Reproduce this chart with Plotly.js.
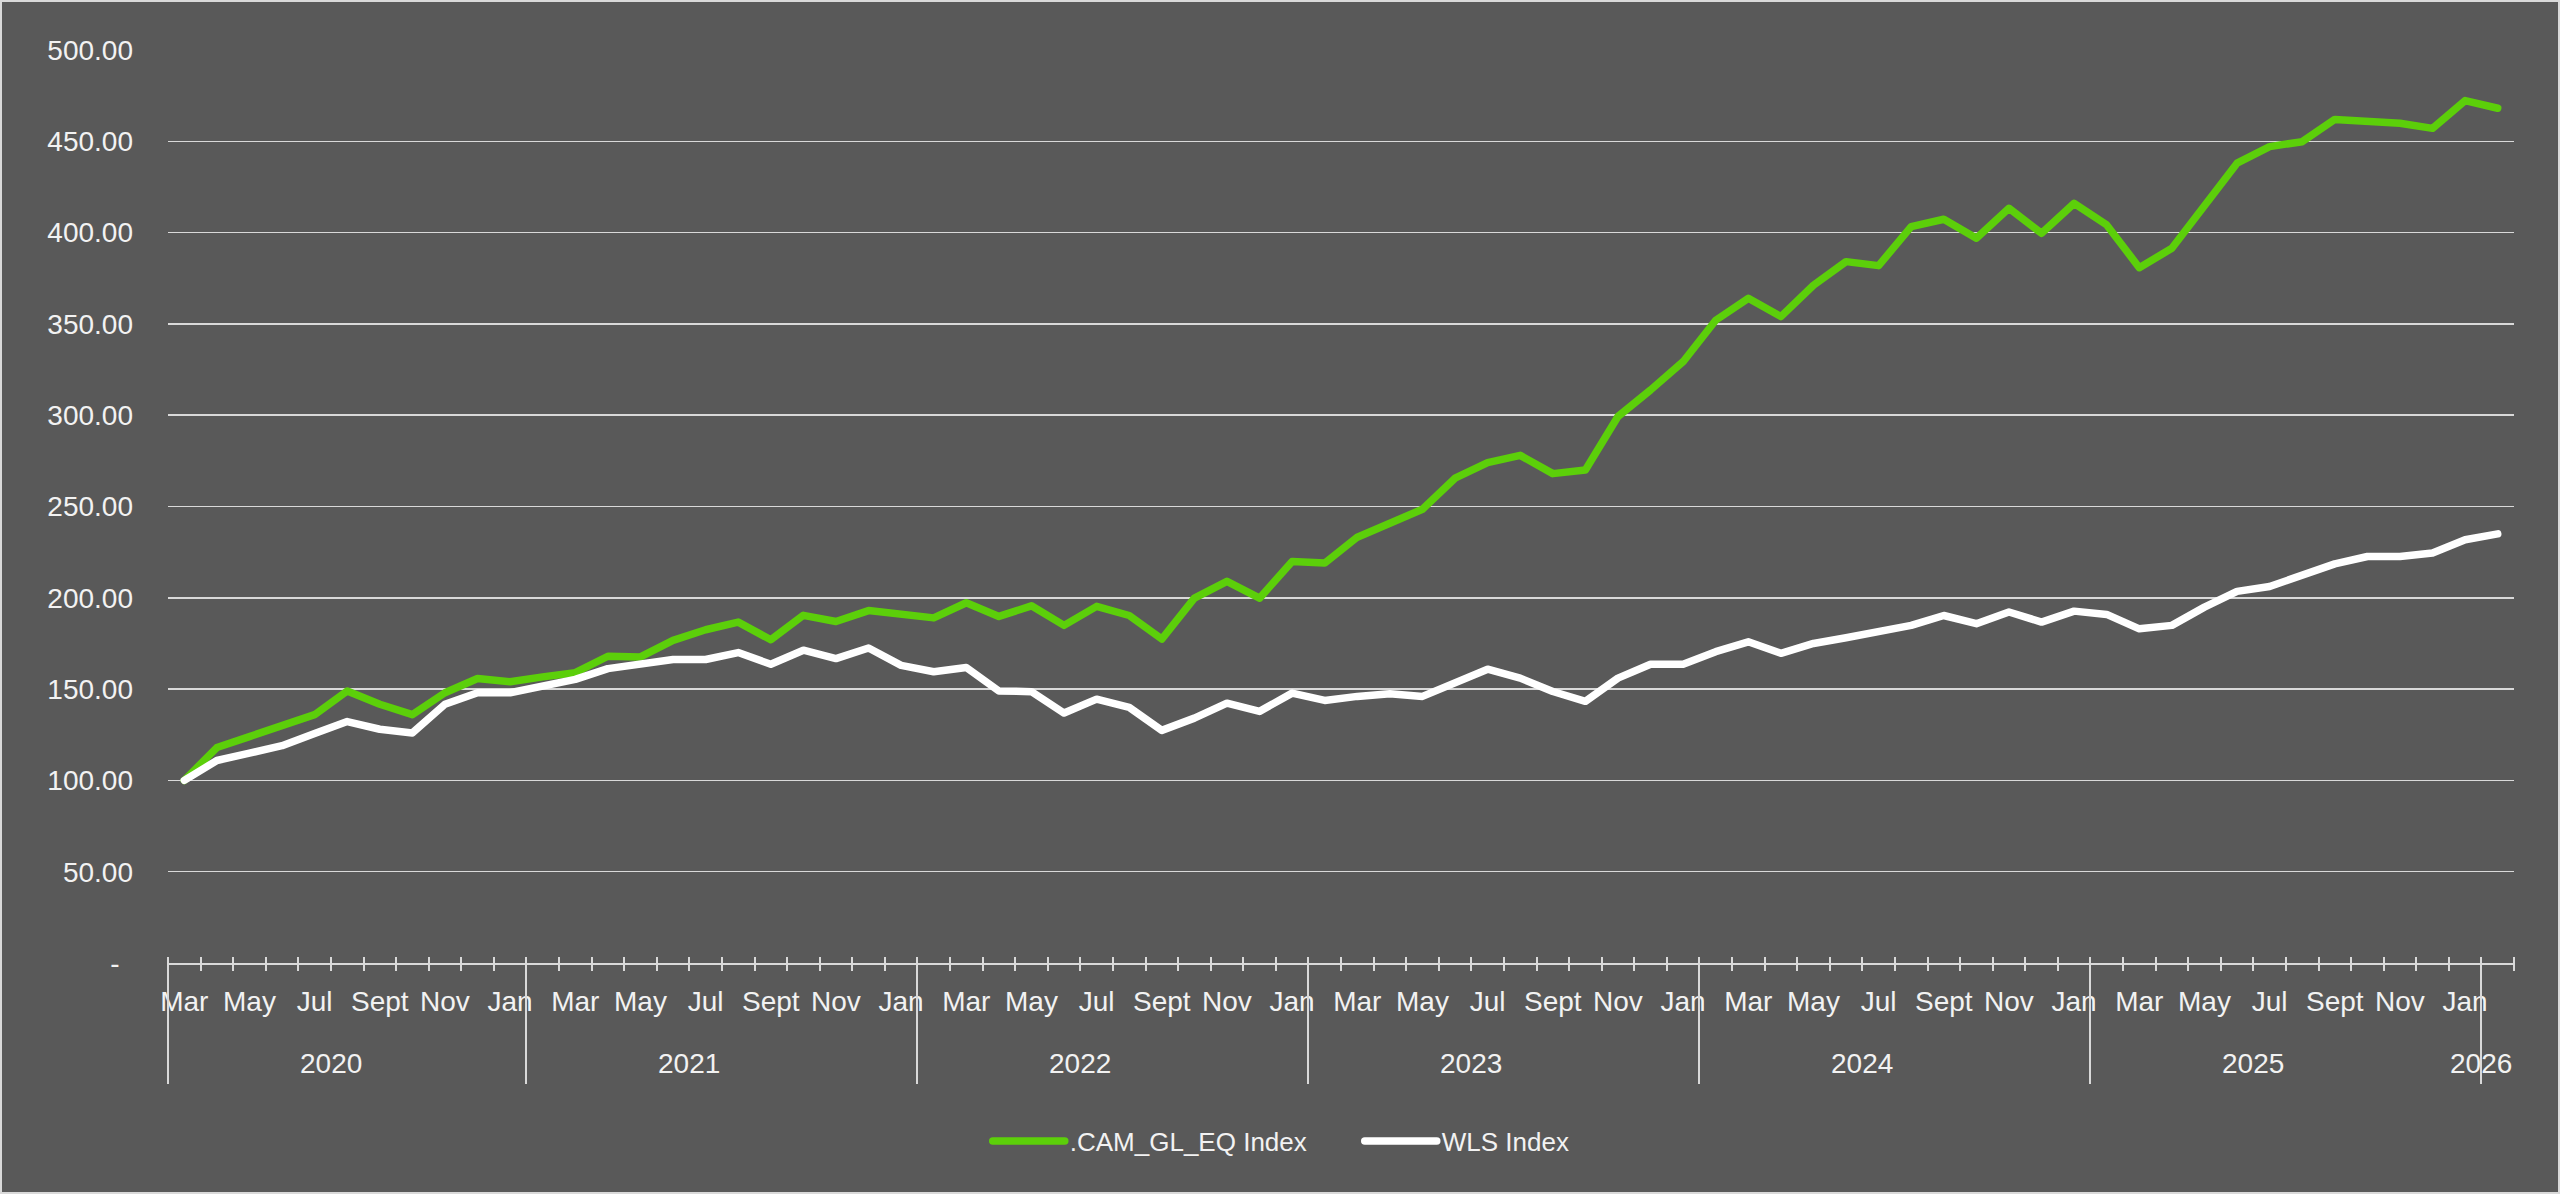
<!DOCTYPE html>
<html><head><meta charset="utf-8">
<script src="https://cdn.plot.ly/plotly-3.0.1.min.js"></script>
<style>
html,body{margin:0;padding:0;background:#595959;}
#wrap{width:2560px;height:1194px;box-sizing:border-box;border:2px solid #d9d9d9;background:#595959;}
#chart{width:2556px;height:1190px;}
.js-line{stroke-linejoin:round;stroke-linecap:round;}
</style></head><body>
<div id="wrap"><div id="chart"></div></div>
<script>
// Year group of each monthly point (as grouped on the reference axis)
const years = [
 2020,2020,2020,2020,2020,2020,2020,2020,2020,2020,2020,
 2021,2021,2021,2021,2021,2021,2021,2021,2021,2021,2021,2021,
 2022,2022,2022,2022,2022,2022,2022,2022,2022,2022,2022,2022,
 2023,2023,2023,2023,2023,2023,2023,2023,2023,2023,2023,2023,
 2024,2024,2024,2024,2024,2024,2024,2024,2024,2024,2024,2024,
 2025,2025,2025,2025,2025,2025,2025,2025,2025,2025,2025,2025,
 2026
];
// Month label of each point
const months = [
 "Mar","Apr","May","Jun","Jul","Aug","Sept","Oct","Nov","Dec","Jan",
 "Feb","Mar","Apr","May","Jun","Jul","Aug","Sept","Oct","Nov","Dec","Jan",
 "Feb","Mar","Apr","May","Jun","Jul","Aug","Sept","Oct","Nov","Dec","Jan",
 "Feb","Mar","Apr","May","Jun","Jul","Aug","Sept","Oct","Nov","Dec","Jan",
 "Feb","Mar","Apr","May","Jun","Jul","Aug","Sept","Oct","Nov","Dec","Jan",
 "Feb","Mar","Apr","May","Jun","Jul","Aug","Sept","Oct","Nov","Dec","Jan",
 "Feb"
];
const camGlEq = [
 100,118,124,129.5,136,149,141.7,136,148,155.8,154,
 156.7,159,168,167.6,176.7,182.5,186.7,177,190.4,187,193,191.3,
 189,197.3,189.8,195.6,184.9,195.3,190.3,177.4,199.8,209,199.8,219.9,
 219,233.2,240.9,248.5,265.5,274,278,268,270,299.3,313.8,329.3,
 352,364,354,371.2,384.1,381.9,403.3,407.3,396.9,413.3,399.6,416,
 404.2,380.8,391.4,415.1,438,447.1,449.8,462,461.1,459.9,457.1,472.3,
 468.1
];
const wls = [
 100,110.9,114.9,119,125.7,132.2,128,126,141.7,148,148,
 151.6,155.3,161.2,163.5,166.2,166.2,170,163.6,171.3,166.7,172.5,163,
 159.5,161.8,149,148.6,136.9,144.5,140,127.4,134.1,142.3,137.8,147.8,
 143.8,146,147.4,146,153.3,160.9,156,148.7,143.3,156,163.6,163.6,
 170.5,175.9,169.6,175,178.1,181.2,184.9,190.3,185.8,192.2,186.7,192.7,
 190.9,183,184.9,194.9,203.5,206.2,212.2,218.6,222.6,222.6,224.5,231.8,
 235
];
const seriesNames = [".CAM_GL_EQ Index", "WLS Index"];
const yTickVals = [0,50,100,150,200,250,300,350,400,450,500];
const yTickText = ["-\u00a0\u2009","50.00","100.00","150.00","200.00","250.00","300.00","350.00","400.00","450.00","500.00"];

const xIdx = months.map((m, i) => i);
const labelIdx = xIdx.filter(i => i % 2 === 0);
const labelText = labelIdx.map(i => months[i]);

// year groups
const groups = [];
years.forEach((y, i) => {
  if (i === 0 || y !== years[i - 1]) groups.push({label: y, start: i, n: 0});
  groups[groups.length - 1].n++;
});
const dividerVals = groups.map(g => g.start - 0.5);

const plotH = 913;
const lineCol = '#d9d9d9';
const txtCol = '#f2f2f2';
const FONT = 'Liberation Sans, Arial, sans-serif';

const traces = [
  {x: xIdx, y: camGlEq, name: seriesNames[0], type: 'scatter', mode: 'lines',
   line: {color: '#5ccf0a', width: 7.5}, hoverinfo: 'skip'},
  {x: xIdx, y: wls, name: seriesNames[1], type: 'scatter', mode: 'lines',
   line: {color: '#ffffff', width: 7.5}, hoverinfo: 'skip'},
  // empty helper traces so the tick-mark overlay axes get drawn
  {x: [], y: [], xaxis: 'x2', yaxis: 'y', type: 'scatter', mode: 'lines', showlegend: false, hoverinfo: 'skip'},
  {x: [], y: [], xaxis: 'x3', yaxis: 'y', type: 'scatter', mode: 'lines', showlegend: false, hoverinfo: 'skip'}
];

const annotations = groups.map(g => ({
  x: g.start - 0.5 + Math.floor((g.n - 1) / 2), xref: 'x',
  y: 0, yref: 'paper', yshift: -100, yanchor: 'middle', xanchor: 'center',
  text: String(g.label), showarrow: false,
  font: {family: FONT, size: 28, color: txtCol}
}));

const layout = {
  width: 2556, height: 1190,
  margin: {l: 166, r: 44, t: 48, b: 229, autoexpand: false},
  paper_bgcolor: '#595959', plot_bgcolor: '#595959',
  font: {family: FONT, color: txtCol, size: 28},
  showlegend: true,
  legend: {orientation: 'h', x: 0.508, xanchor: 'center', y: -0.195, yanchor: 'middle',
           font: {family: FONT, size: 26, color: txtCol}, bgcolor: 'rgba(0,0,0,0)',
           itemwidth: 72, entrywidth: 285, entrywidthmode: 'pixels', traceorder: 'normal'},
  xaxis: {range: [-0.5, 71.5], tickmode: 'array', tickvals: labelIdx, ticktext: labelText,
          ticks: '', showline: true, linecolor: lineCol, linewidth: 2, showgrid: false,
          zeroline: false, ticklabelstandoff: 12, tickfont: {family: FONT, size: 28, color: txtCol},
          automargin: false, fixedrange: true},
  xaxis2: {overlaying: 'x', anchor: 'free', position: 7 / plotH, range: [-0.5, 71.5],
           tickmode: 'linear', tick0: -0.5, dtick: 1, ticks: 'outside', ticklen: 14, tickwidth: 2,
           tickcolor: lineCol, showticklabels: false, showgrid: false, zeroline: false, showline: false,
           automargin: false, fixedrange: true},
  xaxis3: {overlaying: 'x', anchor: 'free', position: 7 / plotH, range: [-0.5, 71.5],
           tickmode: 'array', tickvals: dividerVals, ticks: 'outside', ticklen: 127, tickwidth: 2,
           tickcolor: lineCol, showticklabels: false, showgrid: false, zeroline: false, showline: false,
           automargin: false, fixedrange: true},
  yaxis: {range: [0, 500], tickmode: 'array', tickvals: yTickVals, ticktext: yTickText,
          ticks: '', showgrid: true, gridcolor: lineCol, gridwidth: 1.5, zeroline: false,
          showline: false, ticklabelstandoff: 34, tickfont: {family: FONT, size: 28, color: txtCol},
          automargin: false, fixedrange: true},
  annotations: annotations
};

Plotly.newPlot('chart', traces, layout, {staticPlot: true, displayModeBar: false});
</script>
</body></html>
